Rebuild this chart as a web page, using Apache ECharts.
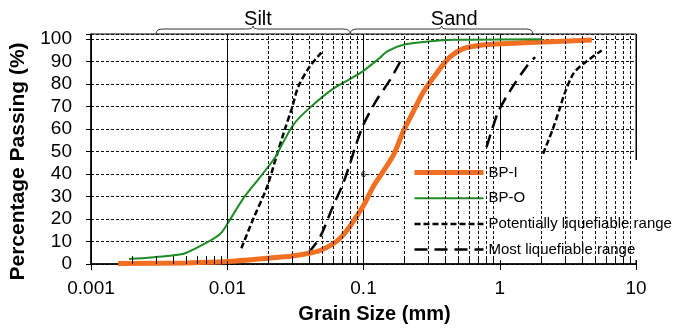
<!DOCTYPE html>
<html>
<head>
<meta charset="utf-8">
<script src="https://cdn.jsdelivr.net/npm/echarts@6/dist/echarts.min.js"></script>
<style>
html, body { margin: 0; padding: 0; background: #fff; }
#main { width: 679px; height: 329px; }
</style>
</head>
<body>
<div id="main"></div>
<script>
// grain size (mm) vs percentage passing (%)
var bpI = [[0.00158, 0.2], [0.005, 0.5], [0.01, 1.1], [0.02, 2.6], [0.03, 3.6], [0.04, 4.8], [0.048, 6],
	[0.06, 9], [0.07, 12.5], [0.08, 17], [0.1, 26], [0.118, 34.5], [0.132, 39], [0.166, 48.5],
	[0.196, 59], [0.233, 68], [0.275, 76.5], [0.345, 85], [0.43, 92], [0.54, 95.8], [0.72, 97.3],
	[0.95, 97.8], [1.67, 98.5], [4.74, 99.6]];
var bpO = [[0.0019, 2.2], [0.0038, 3.7], [0.0049, 4.8], [0.0071, 9.6], [0.0089, 13.5], [0.01, 17.8],
	[0.0132, 29.4], [0.0175, 38.8], [0.0225, 47.5], [0.0252, 53], [0.0306, 62], [0.0395, 69],
	[0.06, 78], [0.095, 85], [0.132, 91.7], [0.148, 94.5], [0.196, 97.5], [0.3, 99], [0.46, 99.7], [2.04, 100]];
var potLeft = [[0.0127, 7], [0.0155, 20], [0.0195, 34], [0.023, 48], [0.0265, 60], [0.0297, 69],
	[0.0333, 79], [0.0405, 88], [0.049, 94]];
var potRight = [[2.08, 49], [2.45, 60], [2.75, 69], [3.0, 76], [3.5, 85], [4.3, 90], [5.6, 95]];
var mostLeft = [[0.0395, 5], [0.048, 12], [0.06, 26], [0.07, 35], [0.08, 45], [0.087, 52], [0.1, 62],
	[0.125, 73], [0.157, 82], [0.19, 91]];
var mostRight = [[0.8, 52], [0.88, 60], [0.98, 68], [1.19, 77], [1.58, 88], [1.82, 92]];

var minorLines = [0.002, 0.003, 0.004, 0.005, 0.006, 0.007, 0.008, 0.009,
	0.02, 0.03, 0.04, 0.05, 0.06, 0.07, 0.08, 0.09,
	0.2, 0.3, 0.4, 0.5, 0.6, 0.7, 0.8, 0.9,
	2, 3, 4, 5, 6, 7, 8, 9];
// [from, to, label position]
var zones = [[0.003, 0.08, 0.0168], [0.08, 1.75, 0.463]];
var zoneNames = ['Silt', 'Sand'];

var names = ['BP-I', 'BP-O', 'Potentially liquefiable range', 'Most liquefiable range'];
var yMax = 102.3;
var font = 'Liberation Sans';

var myChart = echarts.init(document.getElementById('main'));

var gridLines = [];
var tickLines = [];
for (var i = 0; i < minorLines.length; i++) {
	gridLines.push({ xAxis: minorLines[i] });
	tickLines.push([{ coord: [minorLines[i], 0] }, { coord: [minorLines[i], 3.5] }]);
}

function braceItem(params, api) {
	var x1 = api.coord([api.value(0), yMax])[0];
	var x2 = api.coord([api.value(1), yMax])[0];
	var top = api.coord([api.value(0), yMax])[1];
	var xm = api.coord([Math.sqrt(api.value(0) * api.value(1)), yMax])[0];
	var xl = api.coord([api.value(2), yMax])[0];
	var yb = top, yt = top - 5, yp = top - 8;
	var d = 'M' + x1 + ',' + yb + ' Q' + x1 + ',' + yt + ' ' + (x1 + 7) + ',' + yt +
		' L' + (xm - 6) + ',' + yt + ' Q' + xm + ',' + yt + ' ' + xm + ',' + yp +
		' Q' + xm + ',' + yt + ' ' + (xm + 6) + ',' + yt +
		' L' + (x2 - 7) + ',' + yt + ' Q' + x2 + ',' + yt + ' ' + x2 + ',' + yb;
	return {
		type: 'group',
		children: [{
			type: 'path',
			shape: { pathData: d },
			style: { fill: null, stroke: '#333', lineWidth: 1 }
		}, {
			type: 'text',
			style: {
				text: zoneNames[params.dataIndex], x: xl, y: top - 14.5,
				align: 'center', verticalAlign: 'middle',
				font: '20px "' + font + '"', fill: '#000'
			}
		}]
	};
}

var option = {
	backgroundColor: '#fff',
	animation: false,
	grid: { left: 91, right: 43, top: 34, bottom: 60, show: true, borderColor: '#000', borderWidth: 1 },
	legend: {
		data: names,
		orient: 'vertical',
		left: 400,
		top: 160,
		padding: [5, 4, 3, 12],
		itemWidth: 69,
		itemHeight: 14,
		itemGap: 10.7,
		backgroundColor: '#fff',
		selectedMode: false,
		itemStyle: { opacity: 0 },
		lineStyle: { width: 'inherit' },
		textStyle: { color: '#000', fontSize: 15, fontFamily: font }
	},
	xAxis: {
		type: 'log',
		logBase: 10,
		min: 0.001,
		max: 10,
		name: 'Grain Size (mm)',
		nameLocation: 'middle',
		nameGap: 40,
		nameTextStyle: { color: '#000', fontSize: 20, fontWeight: 'bold', fontFamily: font, padding: [0, 0, 0, 22] },
		axisLine: { lineStyle: { color: '#000', width: 1.5 } },
		axisTick: { length: 6, lineStyle: { color: '#000' } },
		axisLabel: {
			color: '#000', fontSize: 19, fontFamily: font, margin: 15,
			formatter: function (v) { return String(Number(v.toPrecision(3))); }
		},
		splitLine: { show: true, lineStyle: { color: '#000', width: 1, type: 'solid' } }
	},
	yAxis: {
		type: 'value',
		min: 0,
		max: yMax,
		interval: 10,
		name: 'Percentage Passing (%)',
		nameLocation: 'middle',
		nameGap: 62,
		nameTextStyle: { color: '#000', fontSize: 21, fontWeight: 'bold', fontFamily: font, padding: [0, 25, 0, 0] },
		axisLine: { show: true, lineStyle: { color: '#000', width: 1.5 } },
		axisTick: { show: true, length: 5, lineStyle: { color: '#000' } },
		axisLabel: {
			color: '#000', fontSize: 19, fontFamily: font, margin: 19,
			formatter: function (v) { return v % 10 === 0 ? String(v) : ''; }
		},
		splitLine: { show: true, lineStyle: { color: '#111', width: 1, type: [3, 2] } }
	},
	graphic: [{
		type: 'text', left: 361, top: 170, silent: true,
		style: { text: '6', font: '9px "' + font + '"', fill: '#000' }
	}],
	series: [{
		name: 'minor grid',
		type: 'line',
		data: [],
		silent: true,
		markLine: {
			silent: true,
			symbol: ['none', 'none'],
			label: { show: false },
			animation: false,
			lineStyle: { color: '#111', width: 1, type: [3, 2] },
			data: gridLines
		}
	}, {
		name: 'minor ticks',
		type: 'line',
		data: [],
		silent: true,
		markLine: {
			silent: true,
			symbol: ['none', 'none'],
			label: { show: false },
			animation: false,
			lineStyle: { color: '#000', width: 1, type: 'solid' },
			data: tickLines
		}
	}, {
		name: 'zones',
		type: 'custom',
		clip: false,
		silent: true,
		renderItem: braceItem,
		encode: { x: [0, 1, 2] },
		data: zones
	}, {
		name: names[2], type: 'line', data: potLeft, smooth: 0.3, symbol: 'none',
		lineStyle: { color: '#000', width: 2.5, type: [6, 3] }, itemStyle: { color: '#000' }
	}, {
		name: names[2], type: 'line', data: potRight, smooth: 0.3, symbol: 'none',
		lineStyle: { color: '#000', width: 2.5, type: [6, 3] }, itemStyle: { color: '#000' }
	}, {
		name: names[3], type: 'line', data: mostLeft, smooth: 0.3, symbol: 'none',
		lineStyle: { color: '#000', width: 2.5, type: [13, 7] }, itemStyle: { color: '#000' }
	}, {
		name: names[3], type: 'line', data: mostRight, smooth: 0.3, symbol: 'none',
		lineStyle: { color: '#000', width: 2.5, type: [13, 7] }, itemStyle: { color: '#000' }
	}, {
		name: names[0], type: 'line', data: bpI, smooth: 0.3, symbol: 'none',
		lineStyle: { color: '#F26F21', width: 5 }, itemStyle: { color: '#F26F21' }
	}, {
		name: names[1], type: 'line', data: bpO, smooth: 0.3, symbol: 'none',
		lineStyle: { color: '#1E8C24', width: 2 }, itemStyle: { color: '#1E8C24' }
	}]
};

myChart.setOption(option);
</script>
</body>
</html>
